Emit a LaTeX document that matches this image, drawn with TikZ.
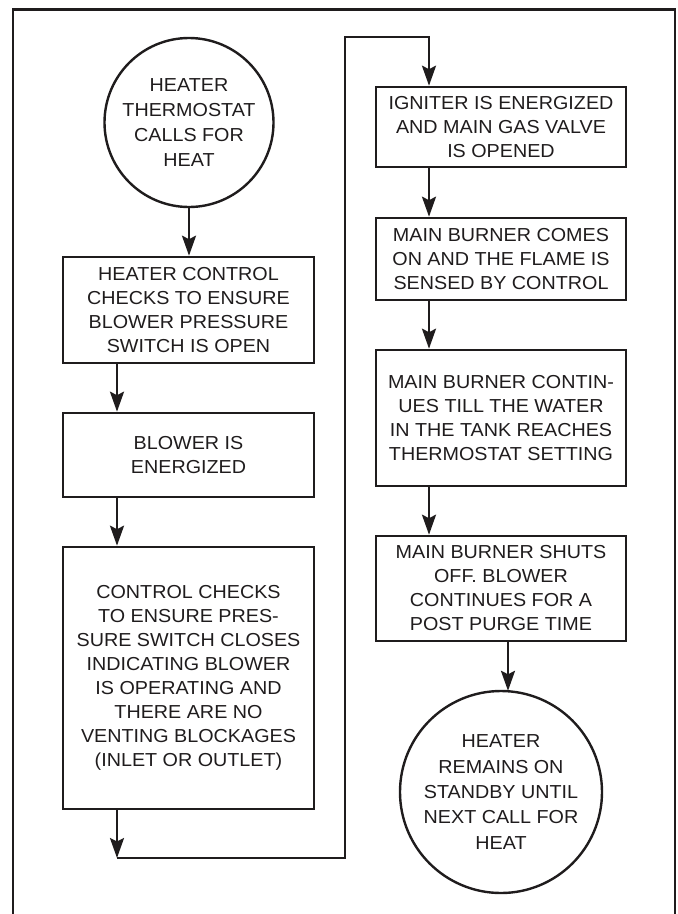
\documentclass[tikz,border=0pt]{standalone}
\usepackage{fontspec}
\setmainfont{Liberation Sans}[FakeStretch=1.05]
\usetikzlibrary{arrows.meta}
\definecolor{ink}{HTML}{1F1C1D}
\tikzset{
  box/.style={draw=ink, line width=2.6pt, minimum width=251pt, inner sep=0pt, align=center, text=ink, font=\fontsize{18.8}{24}\selectfont},
  roundbox/.style={draw=ink, line width=2.4pt, circle, inner sep=0pt, align=center, text=ink, font=\fontsize{18.8}{25.3}\selectfont},
  arr/.style={draw=ink, line width=2.4pt, -{Stealth[length=20pt,width=14pt,inset=3.5pt]}},
  frame/.style={draw=ink, line width=2.5pt}
}
\begin{document}
\begin{tikzpicture}[x=1pt,y=-1pt]
\useasboundingbox (0,0) rectangle (678,914);
\draw[frame] (13,916) -- (13,9.5) -- (675,9.5) -- (675,916);

% left column
\node[roundbox, minimum size=169pt] (c1) at (189,122.5) {HEATER\\THERMOSTAT\\CALLS FOR\\HEAT};
\node[box, minimum height=106pt] (b1) at (188.5,310) {HEATER CONTROL\\CHECKS TO ENSURE\\BLOWER PRESSURE\\SWITCH IS OPEN};
\node[box, minimum height=84pt] (b2) at (188.5,455) {BLOWER IS\\ENERGIZED};
\node[box, minimum height=262pt] (b3) at (188.5,678) {CONTROL CHECKS\\TO ENSURE PRES-\\SURE SWITCH CLOSES\\INDICATING BLOWER\\IS OPERATING AND\\THERE ARE NO\\VENTING BLOCKAGES\\(INLET OR OUTLET)};

% right column
\node[box, minimum width=250pt, minimum height=80pt] (b4) at (501,127) {IGNITER IS ENERGIZED\\AND MAIN GAS VALVE\\IS OPENED};
\node[box, minimum width=250pt, minimum height=82pt] (b5) at (501,259) {MAIN BURNER COMES\\ON AND THE FLAME IS\\SENSED BY CONTROL};
\node[box, minimum width=250pt, minimum height=136pt] (b6) at (501,418) {MAIN BURNER CONTIN-\\UES TILL THE WATER\\IN THE TANK REACHES\\THERMOSTAT SETTING};
\node[box, minimum width=250pt, minimum height=105pt] (b7) at (501,588.5) {MAIN BURNER SHUTS\\OFF. BLOWER\\CONTINUES FOR A\\POST PURGE TIME};
\node[roundbox, minimum size=202pt] (c2) at (501,792) {HEATER\\REMAINS ON\\STANDBY UNTIL\\NEXT CALL FOR\\HEAT};

% routing points
\coordinate (k1) at (117,858);
\coordinate (k2) at (345,858);
\coordinate (k3) at (345,37);
\coordinate (k4) at (429,37);
\coordinate (k5) at (508,0);

% connectors
\draw[arr] (c1.south) -- (c1.south |- b1.north);
\draw[arr] (b1.south -| k1) -- (b2.north -| k1);
\draw[arr] (b2.south -| k1) -- (b3.north -| k1);
\draw[arr] (b3.south -| k1) -- (k1);
\draw[arr] (k1) -- (k2) -- (k3) -- (k4) -- (b4.north -| k4);
\draw[arr] (b4.south -| k4) -- (b5.north -| k4);
\draw[arr] (b5.south -| k4) -- (b6.north -| k4);
\draw[arr] (b6.south -| k4) -- (b7.north -| k4);
\draw[arr] (b7.south -| k5) -- ([yshift=-1pt]c2.north -| k5);
\end{tikzpicture}
\end{document}
